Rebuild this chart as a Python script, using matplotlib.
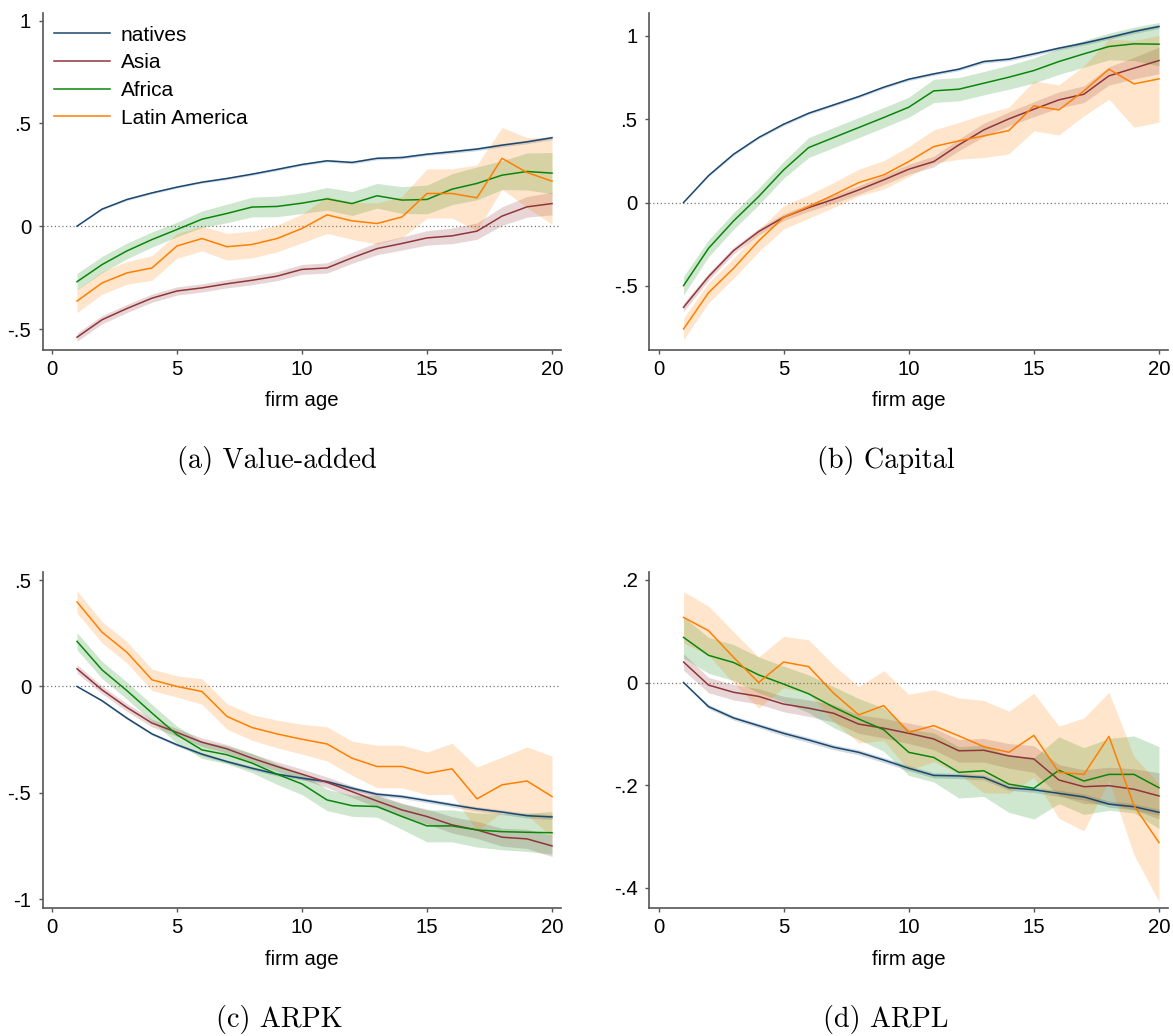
import matplotlib
matplotlib.use("Agg")
import matplotlib.pyplot as plt

# firm age on the horizontal axis
age = list(range(1, 21))

# (a) value-added: point estimates and half-width of the confidence band
va_nat = [0, .083, .13, .162, .19, .214, .232, .253, .276, .30, .318, .31, .33, .334, .35, .362, .375, .394, .41, .43]
va_asia = [-.54, -.455, -.40, -.35, -.315, -.30, -.28, -.263, -.243, -.21, -.203, -.154, -.109, -.084, -.057, -.047, -.024, .049, .094, .11]
va_afr = [-.27, -.187, -.12, -.065, -.016, .034, .062, .093, .096, .112, .133, .11, .148, .127, .13, .18, .208, .248, .266, .258]
va_lat = [-.364, -.276, -.227, -.203, -.096, -.06, -.10, -.089, -.06, -.011, .055, .026, .013, .045, .159, .159, .138, .33, .261, .219]
va_nat_ci = [0, .004, .005, .005, .005, .005, .006, .006, .006, .006, .006, .007, .007, .007, .007, .008, .008, .008, .009, .009]
va_asia_ci = [.02, .02, .02, .02, .02, .02, .02, .022, .022, .024, .025, .027, .03, .032, .035, .038, .04, .045, .05, .055]
va_afr_ci = [.04, .04, .038, .037, .035, .04, .045, .048, .05, .05, .055, .058, .06, .065, .07, .075, .08, .07, .09, .1]
va_lat_ci = [.056, .055, .055, .06, .06, .06, .065, .065, .065, .07, .09, .09, .1, .1, .12, .12, .16, .15, .17, .21]

# (b) capital
k_nat = [0, .162, .29, .39, .47, .536, .586, .636, .692, .74, .772, .80, .846, .86, .892, .926, .956, .99, 1.026, 1.056]
k_asia = [-.628, -.444, -.288, -.174, -.088, -.03, .02, .076, .136, .2, .246, .346, .436, .502, .56, .616, .65, .76, .806, .852]
k_afr = [-.498, -.274, -.11, .036, .196, .33, .39, .45, .51, .572, .67, .68, .716, .752, .792, .846, .892, .936, .952, .95]
k_lat = [-.758, -.54, -.394, -.23, -.088, -.024, .046, .12, .166, .246, .336, .37, .40, .432, .58, .556, .67, .80, .712, .742]
k_nat_ci = [0, .006, .007, .007, .008, .008, .008, .008, .008, .009, .009, .009, .01, .01, .01, .01, .011, .011, .012, .012]
k_asia_ci = [.025, .022, .02, .02, .02, .022, .024, .026, .028, .03, .032, .035, .04, .042, .045, .048, .05, .055, .065, .08]
k_afr_ci = [.056, .05, .05, .05, .05, .06, .06, .06, .06, .06, .07, .07, .07, .072, .075, .077, .08, .08, .1, .13]
k_lat_ci = [.065, .06, .06, .065, .07, .07, .075, .08, .085, .09, .1, .11, .13, .14, .15, .15, .15, .18, .26, .26]

# (c) ARPK
rk_nat = [0, -.067, -.149, -.223, -.274, -.318, -.353, -.384, -.412, -.431, -.447, -.478, -.506, -.517, -.536, -.556, -.575, -.59, -.607, -.613]
rk_asia = [.083, -.016, -.099, -.172, -.216, -.262, -.293, -.337, -.376, -.412, -.45, -.494, -.538, -.58, -.611, -.65, -.674, -.708, -.716, -.749]
rk_afr = [.212, .078, -.02, -.125, -.227, -.298, -.321, -.36, -.412, -.458, -.533, -.56, -.564, -.611, -.655, -.655, -.674, -.682, -.685, -.687]
rk_lat = [.397, .255, .16, .031, 0, -.024, -.141, -.193, -.223, -.248, -.27, -.337, -.376, -.376, -.408, -.387, -.528, -.462, -.444, -.517]
rk_nat_ci = [0, .005, .006, .006, .007, .007, .007, .008, .008, .008, .008, .009, .009, .009, .01, .01, .01, .011, .011, .012]
rk_asia_ci = [.02, .018, .018, .018, .018, .02, .02, .022, .022, .024, .025, .027, .03, .032, .035, .038, .04, .042, .045, .05]
rk_afr_ci = [.04, .04, .04, .04, .04, .04, .042, .045, .048, .05, .05, .05, .05, .06, .075, .075, .08, .085, .09, .1]
rk_lat_ci = [.052, .05, .05, .05, .05, .06, .06, .06, .065, .07, .08, .08, .1, .1, .1, .12, .15, .13, .16, .19]

# (d) ARPL
rl_nat = [0, -.047, -.069, -.084, -.099, -.112, -.126, -.136, -.151, -.167, -.181, -.182, -.185, -.205, -.209, -.216, -.223, -.237, -.242, -.253]
rl_asia = [.04, -.005, -.019, -.027, -.042, -.05, -.06, -.081, -.089, -.099, -.11, -.133, -.132, -.143, -.149, -.19, -.203, -.201, -.208, -.221]
rl_afr = [.088, .053, .039, .015, -.003, -.022, -.048, -.071, -.092, -.136, -.146, -.175, -.172, -.198, -.206, -.171, -.192, -.179, -.179, -.205]
rl_lat = [.127, .101, .049, 0, .04, .031, -.021, -.063, -.045, -.097, -.084, -.104, -.125, -.136, -.103, -.175, -.179, -.105, -.24, -.312]
rl_nat_ci = [0, .004, .004, .004, .005, .005, .005, .005, .005, .005, .005, .005, .005, .005, .005, .006, .006, .006, .006, .006]
rl_asia_ci = [.016, .015, .015, .015, .015, .016, .017, .018, .019, .02, .021, .022, .023, .024, .026, .03, .033, .036, .04, .045]
rl_afr_ci = [.04, .035, .035, .035, .035, .037, .04, .04, .042, .045, .048, .05, .05, .055, .06, .065, .065, .07, .075, .08]
rl_lat_ci = [.05, .048, .05, .05, .05, .052, .055, .055, .068, .074, .07, .074, .09, .08, .082, .09, .11, .086, .096, .115]

groups = ["natives", "Asia", "Africa", "Latin America"]
colors = ["#1a476f", "#90353b", "#0a870a", "#ff7f00"]

panels = [
    dict(title="(a) Value-added", lines=[va_nat, va_asia, va_afr, va_lat],
         ci=[va_nat_ci, va_asia_ci, va_afr_ci, va_lat_ci],
         ylim=(-0.602, 1.039), yticks=[-.5, 0, .5, 1], ylabels=["-.5", "0", ".5", "1"]),
    dict(title="(b) Capital", lines=[k_nat, k_asia, k_afr, k_lat],
         ci=[k_nat_ci, k_asia_ci, k_afr_ci, k_lat_ci],
         ylim=(-0.884, 1.14), yticks=[-.5, 0, .5, 1], ylabels=["-.5", "0", ".5", "1"]),
    dict(title="(c) ARPK", lines=[rk_nat, rk_asia, rk_afr, rk_lat],
         ci=[rk_nat_ci, rk_asia_ci, rk_afr_ci, rk_lat_ci],
         ylim=(-1.042, 0.539), yticks=[-1, -.5, 0, .5], ylabels=["-1", "-.5", "0", ".5"]),
    dict(title="(d) ARPL", lines=[rl_nat, rl_asia, rl_afr, rl_lat],
         ci=[rl_nat_ci, rl_asia_ci, rl_afr_ci, rl_lat_ci],
         ylim=(-0.44, 0.216), yticks=[-.4, -.2, 0, .2], ylabels=["-.4", "-.2", "0", ".2"]),
]

W, H = 1173, 1036
fig = plt.figure(figsize=(W / 100, H / 100), dpi=100)

sans = "Liberation Sans"
fs = 14.7
axis_col = "#555555"

# pixel boxes (left, top, right, bottom) of each plot region
boxes = [(42.5, 12.5, 561, 350), (649, 12.5, 1168, 350),
         (42.5, 571.7, 561, 908.3), (649, 571.7, 1168, 908.3)]
caption_pos = [(277, 461), (886, 461), (279, 1020), (886, 1020)]

for p, (l, t, r, b), (cx, cy) in zip(panels, boxes, caption_pos):
    ax = fig.add_axes([l / W, 1 - b / H, (r - l) / W, (b - t) / H])
    for y, hw, c in zip(p["lines"], p["ci"], colors):
        lo = [v - h for v, h in zip(y, hw)]
        hi = [v + h for v, h in zip(y, hw)]
        ax.fill_between(age, lo, hi, color=c, alpha=0.2, linewidth=0)
    for y, c, g in zip(p["lines"], colors, groups):
        ax.plot(age, y, color=c, lw=1.1, label=g)
    ax.axhline(0, color="#777777", lw=0.9, ls=(0, (1, 2)), zorder=0)

    ax.set_xlim(-0.38, 20.36)
    ax.set_ylim(*p["ylim"])
    ax.set_xticks([0, 5, 10, 15, 20])
    ax.set_xticklabels(["0", "5", "10", "15", "20"], fontfamily=sans, fontsize=fs)
    ax.set_yticks(p["yticks"])
    ax.set_yticklabels(p["ylabels"], fontfamily=sans, fontsize=fs)
    ax.tick_params(axis="both", length=3.2, width=1, color=axis_col, pad=4)
    ax.tick_params(axis="y", pad=5)
    for s in ["top", "right"]:
        ax.spines[s].set_visible(False)
    for s in ["left", "bottom"]:
        ax.spines[s].set_color(axis_col)
        ax.spines[s].set_linewidth(1.2)
    ax.set_xlabel("firm age", fontfamily=sans, fontsize=fs, labelpad=9)

    fig.text(cx / W, 1 - cy / H, p["title"], fontfamily="cmr10", fontsize=20.3,
             ha="center", va="center")

    if p["title"].startswith("(a)"):
        ax.legend(loc="upper left", bbox_to_anchor=(11.5 / (r - l), 1 - 13 / (b - t)),
                  frameon=False, borderpad=0, borderaxespad=0, handlelength=2.7,
                  handletextpad=0.5, labelspacing=0.42,
                  prop={"family": sans, "size": 15})

fig.savefig("out.png", dpi=100)
